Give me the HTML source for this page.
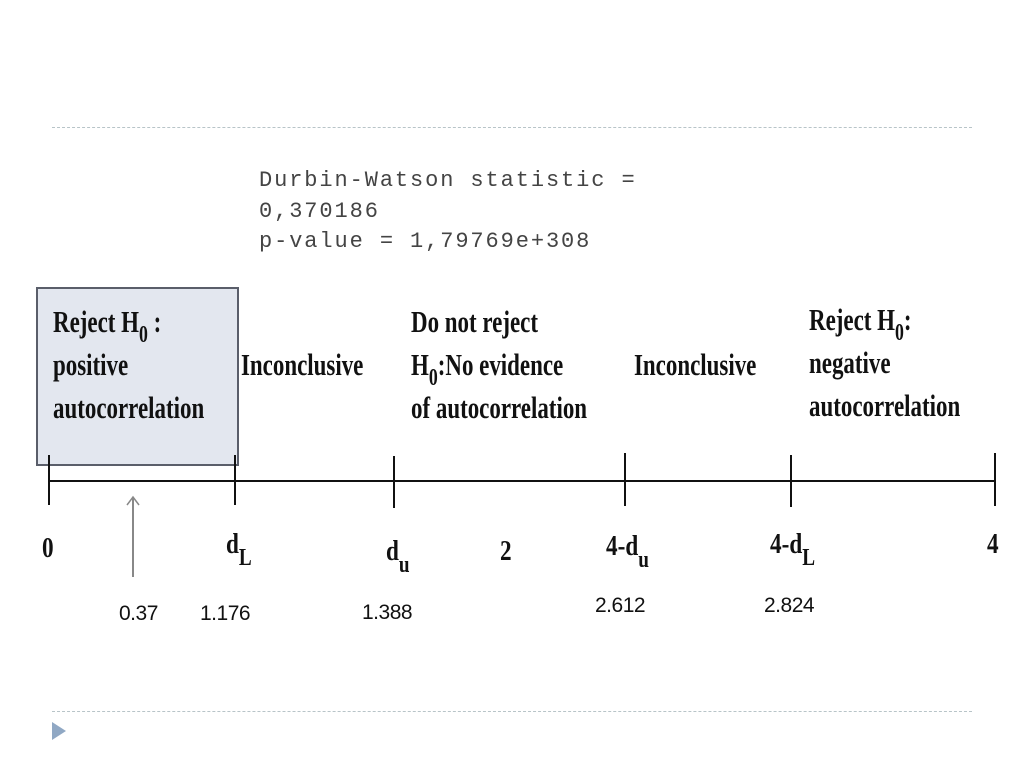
<!DOCTYPE html>
<html><head><meta charset="utf-8"><style>
body{margin:0;width:1024px;height:768px;background:#fff;position:relative;overflow:hidden;font-family:"Liberation Serif",serif}
.a{position:absolute;white-space:nowrap}
.s{font-weight:bold;font-size:31px;line-height:43px;transform:scaleX(0.74);transform-origin:0 0;color:#111}
.s sub{font-size:24px;vertical-align:-10px;line-height:0}
.m{font-family:"Liberation Mono",monospace;font-size:22px;letter-spacing:1.9px;color:#444;line-height:30.5px}
.v{font-family:"Liberation Sans",sans-serif;font-size:21px;color:#111;letter-spacing:-0.5px}
.l{font-weight:bold;font-size:29px;transform:scaleX(0.8);transform-origin:0 0;color:#111}
.l sub{font-size:24px;vertical-align:-12px;line-height:0}
.t{position:absolute;width:2px;background:#111}
</style></head><body>
<div class="a" style="left:52px;top:127px;width:920px;border-top:1px dashed #b8c4c8"></div>
<div class="a" style="left:52px;top:711px;width:920px;border-top:1px dashed #b8c4c8"></div>
<svg class="a" style="left:50px;top:720px" width="20" height="22"><polygon points="2,2 16,11 2,20" fill="#90a8c4"/></svg>
<div class="a m" style="left:259px;top:166px">Durbin-Watson statistic =<br>0,370186<br>p-value = 1,79769e+308</div>
<div class="a" style="left:36px;top:287px;width:199px;height:175px;background:#e3e7ef;border:2px solid #5a5e6a"></div>
<div class="a s" style="left:53px;top:300px">Reject H<sub>0</sub> :<br>positive<br>autocorrelation</div>
<div class="a s" style="left:241px;top:343px">Inconclusive</div>
<div class="a s" style="left:411px;top:300px">Do not reject<br>H<sub>0</sub>:No evidence<br>of autocorrelation</div>
<div class="a s" style="left:634px;top:343px">Inconclusive</div>
<div class="a s" style="left:809px;top:298px">Reject H<sub>0</sub>:<br>negative<br>autocorrelation</div>
<div class="a" style="left:49px;top:480px;width:947px;height:2px;background:#111"></div>
<div class="t" style="left:48px;top:455px;height:50px"></div>
<div class="t" style="left:234px;top:455px;height:50px"></div>
<div class="t" style="left:393px;top:456px;height:52px"></div>
<div class="t" style="left:624px;top:453px;height:53px"></div>
<div class="t" style="left:790px;top:455px;height:52px"></div>
<div class="t" style="left:994px;top:453px;height:53px"></div>
<svg class="a" style="left:124px;top:495px" width="18" height="84"><line x1="9" y1="2" x2="9" y2="82" stroke="#888" stroke-width="2"/><polyline points="3,10 9,2 15,10" fill="none" stroke="#888" stroke-width="1.5"/></svg>
<div class="a l" style="left:42px;top:532px">0</div>
<div class="a l" style="left:226px;top:528px">d<sub>L</sub></div>
<div class="a l" style="left:386px;top:535px">d<sub>u</sub></div>
<div class="a l" style="left:500px;top:535px">2</div>
<div class="a l" style="left:606px;top:530px">4-d<sub>u</sub></div>
<div class="a l" style="left:770px;top:528px">4-d<sub>L</sub></div>
<div class="a l" style="left:987px;top:528px">4</div>
<div class="a v" style="left:119px;top:602px">0.37</div>
<div class="a v" style="left:200px;top:602px">1.176</div>
<div class="a v" style="left:362px;top:601px">1.388</div>
<div class="a v" style="left:595px;top:594px">2.612</div>
<div class="a v" style="left:764px;top:594px">2.824</div>
</body></html>
